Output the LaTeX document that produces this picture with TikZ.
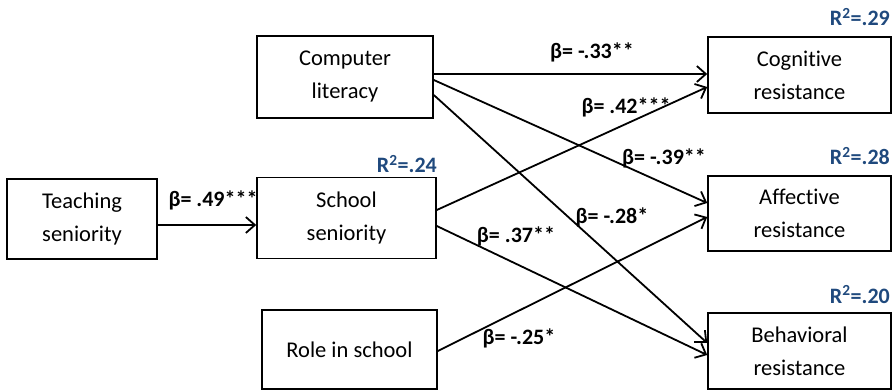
\documentclass[tikz,border=0pt]{standalone}
\usepackage{fontspec}
\setmainfont{Carlito}[Ligatures=NoCommon]
\usetikzlibrary{arrows.meta}
\definecolor{rsqblue}{RGB}{31,73,125}
\begin{document}
\begin{tikzpicture}[x=1pt,y=-1pt,
  var/.style={draw,line width=1.6pt,align=center,inner sep=0pt,
    font=\fontsize{22.5}{33}\selectfont},
  path/.style={line width=1.8pt,-{Straight Barb[length=9pt,width=16pt,line width=1.8pt]}},
  coef/.style={anchor=base,inner sep=0pt,font=\fontsize{22}{26}\selectfont\bfseries},
  rsq/.style={anchor=base east,inner sep=0pt,text=rsqblue,font=\fontsize{22}{26}\selectfont\bfseries}]
\useasboundingbox (0,0) rectangle (894,390);

% variables
\node[var,minimum width=150pt,minimum height=80pt] (ts) at (82,219) {Teaching\\seniority};
\node[var,minimum width=176pt,minimum height=82pt] (cl) at (345,77) {Computer\\literacy};
\node[var,minimum width=179pt,minimum height=81pt] (ss) at (346.5,218) {School\\seniority};
\node[var,minimum width=175pt,minimum height=79pt] (rs) at (349.5,349.5) {Role in school};
\node[var,minimum width=183pt,minimum height=76pt] (cog) at (799.5,75) {Cognitive\\resistance};
\node[var,minimum width=183pt,minimum height=75pt] (aff) at (799.5,213.5) {Affective\\resistance};
\node[var,minimum width=183pt,minimum height=76pt] (beh) at (799.5,351) {Behavioral\\resistance};

% paths
\draw[path] ([yshift=-6pt]ts.east) -- ([yshift=-7pt]ss.west);
\draw[path] ([yshift=3pt]cl.east) -- ([yshift=1pt]cog.west);
\draw[path] ([yshift=8pt]ss.east) -- ([yshift=-12pt]cog.west);
\draw[path] ([yshift=-3pt]cl.east) -- ([yshift=10.5pt]aff.west);
\draw[path] ([yshift=-18pt]cl.east) -- ([yshift=8pt]beh.west);
\draw[path] ([yshift=-8pt]ss.east) -- ([yshift=-4pt]beh.west);
\draw[path] ([yshift=-1.5pt]rs.east) -- ([yshift=-3.5pt]aff.west);

% coefficients
\node[coef] (b1) at (213,207) {β= .49***};
\node[coef] (b2) at (592,59) {β= -.33**};
\node[coef] (b3) at (626,114) {β= .42***};
\node[coef] (b4) at (664,165) {β= -.39**};
\node[coef] (b5) at (612,223) {β= -.28*};
\node[coef] (b6) at (516,243) {β= .37**};
\node[coef] (b7) at (519,344) {β= -.25*};

% explained variance
\node[rsq] (r1) at (437,173) {R\textsuperscript{2}=.24};
\node[rsq] (r2) at (890,26) {R\textsuperscript{2}=.29};
\node[rsq] (r3) at (890,165) {R\textsuperscript{2}=.28};
\node[rsq] (r4) at (890,303) {R\textsuperscript{2}=.20};
\end{tikzpicture}
\end{document}
